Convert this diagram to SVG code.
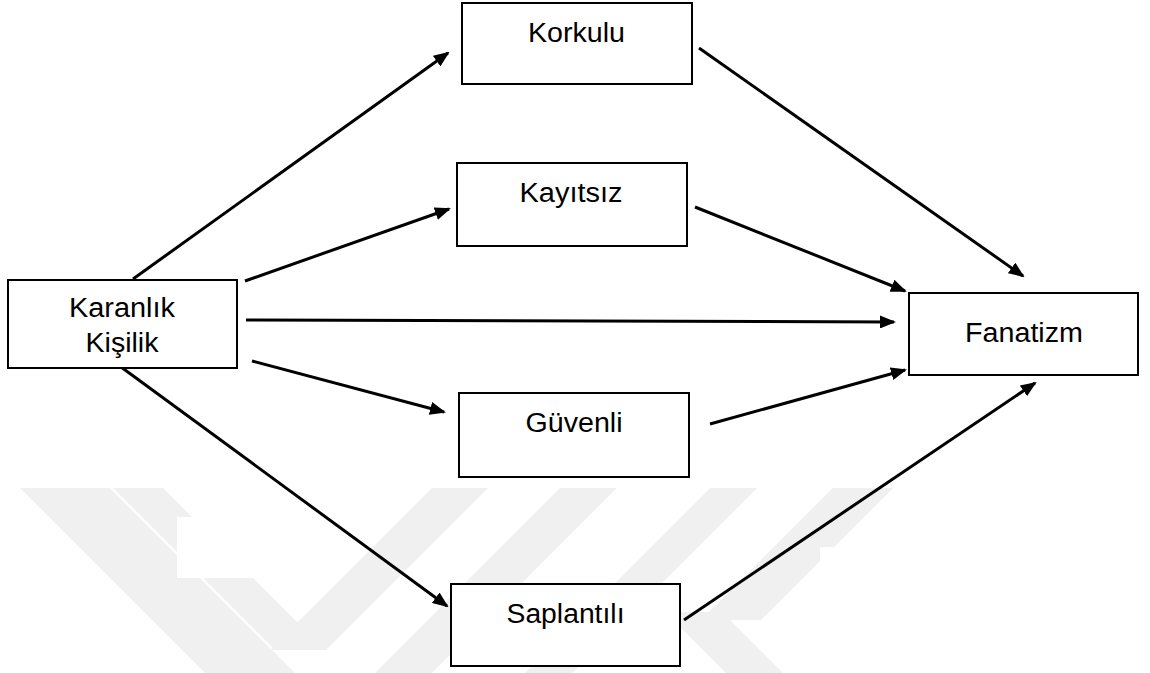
<svg xmlns="http://www.w3.org/2000/svg" width="1150" height="673" viewBox="0 0 1150 673">
<style>
.box{fill:#fff;stroke:#000;stroke-width:2}
.lbl{font-family:"Liberation Sans",Arial,sans-serif;font-size:27px;fill:#000;text-anchor:middle}
.conn{stroke:#000;stroke-width:3;fill:none;marker-end:url(#ah)}
.wm{fill:#f0f0f0}
</style>
<defs>
<marker id="ah" markerUnits="userSpaceOnUse" markerWidth="16" markerHeight="13" refX="14" refY="6.5" orient="auto">
<path d="M0,0 L16,6.5 L0,13 z" fill="#000"/>
</marker>
</defs>
<rect width="1150" height="673" fill="#fff"/>
<g id="watermark">
<polygon class="wm" points="20,488 110,488 295,673 205,673"/>
<polygon class="wm" points="113,488 163,488 325,650 275,650"/>
<polygon class="wm" points="432,488 488,488 326,650 270,650"/>
<polygon class="wm" points="560,488 617,488 432,673 375,673"/>
<polygon class="wm" points="710,488 757,488 572,673 525,673"/>
<polygon class="wm" points="833,488 893,488 761,620 701,620"/>
<polygon class="wm" points="665,612 722,612 783,673 726,673"/>
<rect x="177" y="517" width="80" height="61" fill="#fff"/>
<rect x="820" y="547" width="330" height="126" fill="#fff"/>
</g>
<g id="connectors">
<line class="conn" x1="133" y1="279" x2="448" y2="53"/>
<line class="conn" x1="245" y1="281" x2="449" y2="209"/>
<line class="conn" x1="246" y1="320" x2="894" y2="322"/>
<line class="conn" x1="252" y1="361" x2="444" y2="412"/>
<line class="conn" x1="121" y1="367" x2="447" y2="606"/>
<line class="conn" x1="699" y1="48" x2="1023" y2="276"/>
<line class="conn" x1="695" y1="207" x2="905" y2="291"/>
<line class="conn" x1="710" y1="424" x2="905" y2="370"/>
<line class="conn" x1="684" y1="620" x2="1035" y2="383"/>
</g>
<g id="karanlik">
<rect class="box" x="8" y="280" width="229" height="88"/>
<text class="lbl" x="122" y="317" textLength="106" lengthAdjust="spacingAndGlyphs">Karanlık</text>
<text class="lbl" x="122" y="352" textLength="73" lengthAdjust="spacingAndGlyphs">Kişilik</text>
</g>
<g id="korkulu">
<rect class="box" x="462" y="3" width="230" height="81"/>
<text class="lbl" x="576.5" y="42" textLength="97" lengthAdjust="spacingAndGlyphs">Korkulu</text>
</g>
<g id="kayitsiz">
<rect class="box" x="457" y="163" width="230" height="83"/>
<text class="lbl" x="571" y="202" textLength="103" lengthAdjust="spacingAndGlyphs">Kayıtsız</text>
</g>
<g id="fanatizm">
<rect class="box" x="909" y="293" width="229" height="82"/>
<text class="lbl" x="1024" y="342" textLength="118" lengthAdjust="spacingAndGlyphs">Fanatizm</text>
</g>
<g id="guvenli">
<rect class="box" x="459" y="393" width="230" height="84"/>
<text class="lbl" x="574" y="432" textLength="97" lengthAdjust="spacingAndGlyphs">Güvenli</text>
</g>
<g id="saplantili">
<rect class="box" x="451" y="584" width="229" height="82"/>
<text class="lbl" x="565.5" y="623" textLength="118" lengthAdjust="spacingAndGlyphs">Saplantılı</text>
</g>
</svg>
